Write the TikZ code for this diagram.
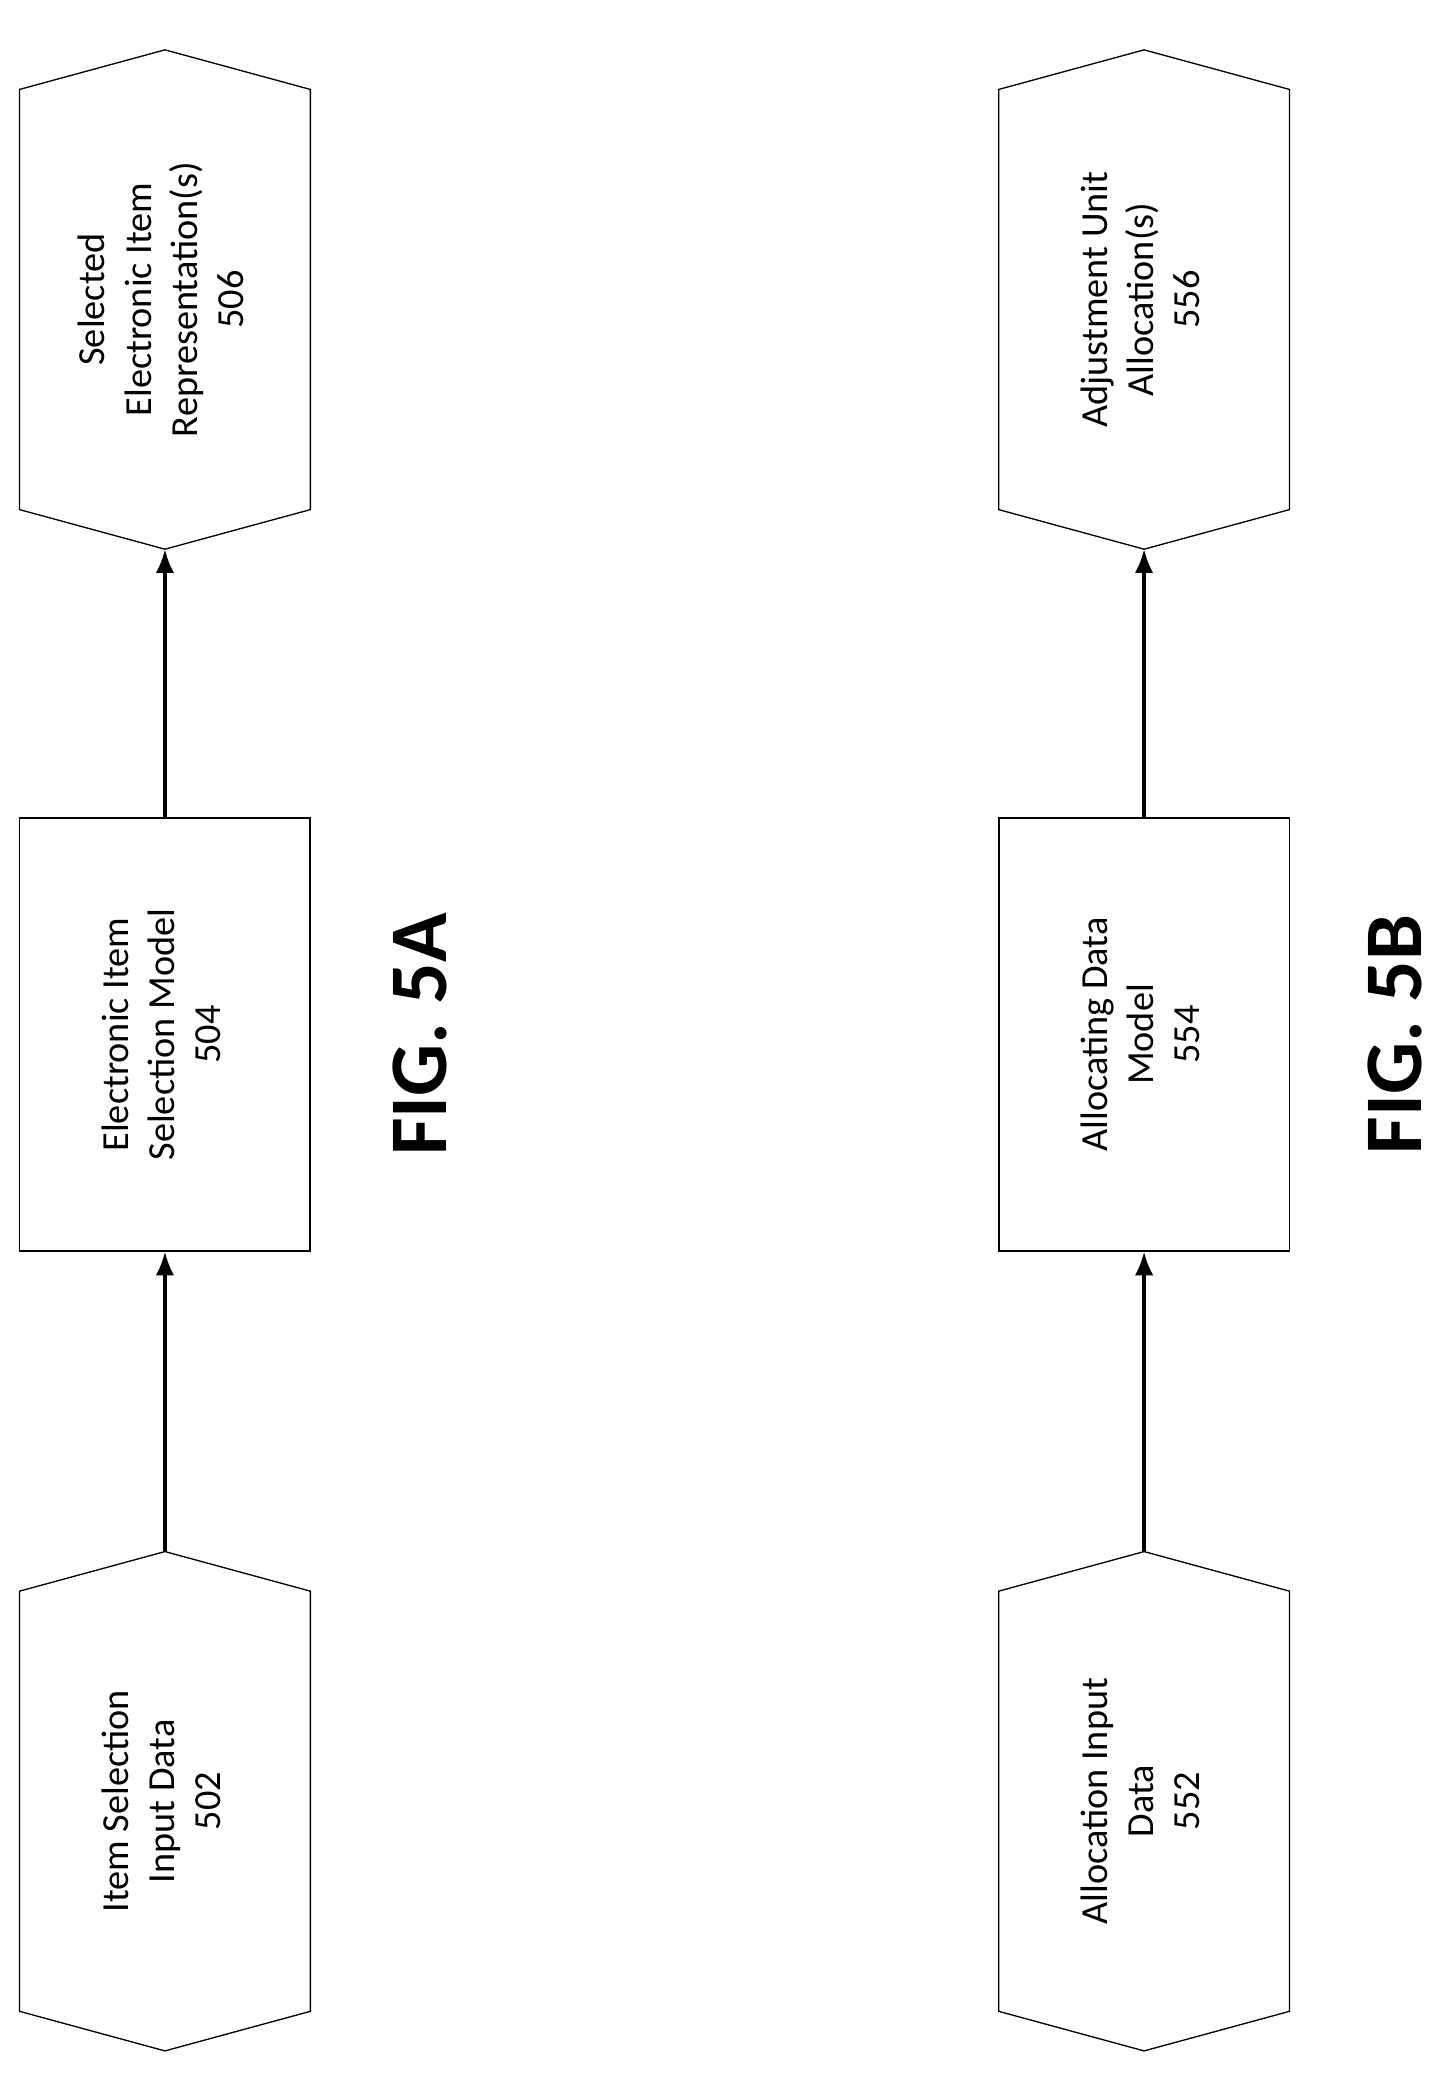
\documentclass[tikz,border=0pt]{standalone}
\usepackage{fontspec}
\setmainfont{Carlito}
\usetikzlibrary{arrows.meta}
\usetikzlibrary{positioning}

\tikzset{
  hexbox/.style={draw=none, minimum width=220pt, minimum height=318pt, inner sep=0pt},
  modelbox/.style={draw, line width=1pt, minimum width=220pt, minimum height=328pt, inner sep=0pt},
  flow/.style={-{Latex[length=18pt,width=14pt]}, line width=2.5pt},
  figlabel/.style={font=\bfseries\fontsize{62}{70}\selectfont, rotate=90}
}
\newcommand{\hexa}[1]{\draw[line width=1pt] (#1.south west) -- (#1.north west) -- ([yshift=30pt]#1.north) -- (#1.north east) -- (#1.south east) -- ([yshift=-30pt]#1.south) -- cycle;}
\newcommand{\rtext}[1]{\rotatebox{90}{\fontsize{29}{35}\selectfont\begin{tabular}{c}#1\end{tabular}}}

\begin{document}
\begin{tikzpicture}[x=1pt, y=1pt]
\useasboundingbox (0,0) rectangle (1100,1577);
% FIG. 5A
\node[hexbox] (in502) at (125,212) {\rtext{Item Selection\\Input Data\\502}};
\node[modelbox] (m504) at (125,793) {\rtext{Electronic Item\\Selection Model\\504}};
\node[hexbox] (out506) at (125,1350) {\rtext{Selected\\Electronic Item\\Representation(s)\\506}};
\hexa{in502}
\hexa{out506}
\draw[flow] ([yshift=30pt]in502.north) -- (m504.south);
\draw[flow] (m504.north) -- ([yshift=-30pt]out506.south);
\node[figlabel] (fig5a) at (318,793) {FIG. 5A};
% FIG. 5B
\node[hexbox] (in552) at (867,212) {\rtext{Allocation Input\\Data\\552}};
\node[modelbox] (m554) at (867,793) {\rtext{Allocating Data\\Model\\554}};
\node[hexbox] (out556) at (867,1350) {\rtext{Adjustment Unit\\Allocation(s)\\556}};
\hexa{in552}
\hexa{out556}
\draw[flow] ([yshift=30pt]in552.north) -- (m554.south);
\draw[flow] (m554.north) -- ([yshift=-30pt]out556.south);
\node[figlabel] (fig5b) at (1057,793) {FIG. 5B};
\end{tikzpicture}
\end{document}
